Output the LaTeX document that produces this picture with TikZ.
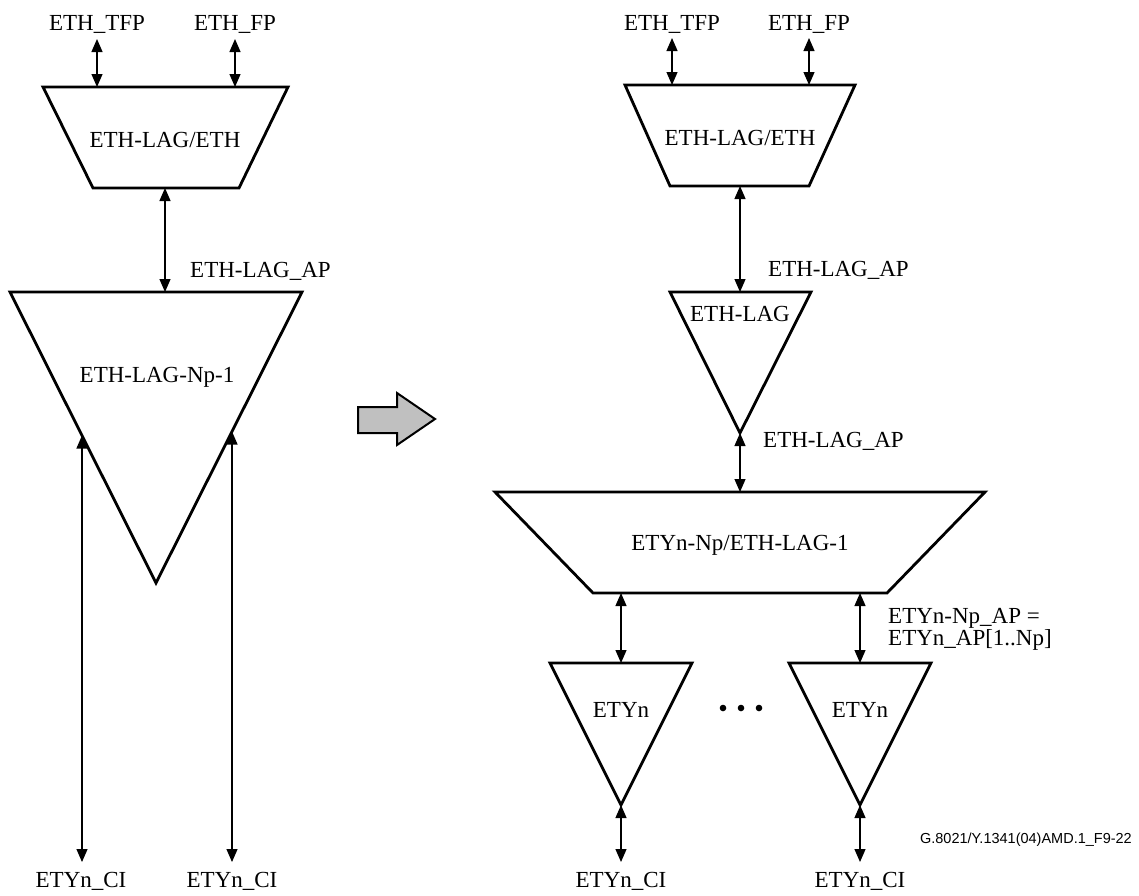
\documentclass[tikz,border=0pt]{standalone}
\usepackage{fontspec}
\setmainfont{Liberation Serif}
\newfontfamily\idfont{Liberation Sans}
\usetikzlibrary{arrows.meta}
\definecolor{arrowgray}{RGB}{192,192,192}
\tikzset{
  ptr/.tip={Triangle[length=13pt,width=11pt]},
  conn/.style={line width=1.2pt,ptr-ptr},
  block/.style={line width=2.8pt,line join=miter},
  lbl/.style={anchor=base,inner sep=0pt,font=\fontsize{23}{26}\selectfont},
  lbll/.style={lbl,anchor=base west},
}
\begin{document}
\begin{tikzpicture}[x=1pt,y=-1pt]
\useasboundingbox (0,0) rectangle (1139,895);

% ================= LEFT =================
\draw[block] (43,87) -- (288,87) -- (239,188) -- (93,188) -- cycle;
\node[lbl] (lTrapTxt) at (165,147) {ETH-LAG/ETH};
\node[lbl] (lTFP) at (97,30) {ETH\_TFP};
\node[lbl] (lFP) at (235,30) {ETH\_FP};
\coordinate (lTFPa) at (97,39);  \coordinate (lTFPb) at (97,87);
\coordinate (lFPa) at (235,39);  \coordinate (lFPb) at (235,87);
\draw[conn] (lTFPa) -- (lTFPb);
\draw[conn] (lFPa) -- (lFPb);

\draw[block] (10,292) -- (302,292) -- (156,583) -- cycle;
\node[lbl] (lTriTxt) at (157,382) {ETH-LAG-Np-1};
\coordinate (lAPa) at (165,188); \coordinate (lAPb) at (165,292);
\draw[conn] (lAPa) -- (lAPb);
\node[lbll] (lAP) at (190,277) {ETH-LAG\_AP};

\coordinate (lCI1a) at (82,435.5);  \coordinate (lCI1b) at (82,862);
\coordinate (lCI2a) at (232,431.5); \coordinate (lCI2b) at (232,862);
\draw[conn] (lCI1a) -- (lCI1b);
\draw[conn] (lCI2a) -- (lCI2b);
\node[lbl] (lCI1) at (81,887) {ETYn\_CI};
\node[lbl] (lCI2) at (232,887) {ETYn\_CI};

% ================= BIG ARROW =================
\draw[line width=2pt,fill=arrowgray,line join=miter]
  (358,407) -- (397,407) -- (397,393) -- (435,419) -- (397,445) -- (397,433) -- (358,433) -- cycle;

% ================= RIGHT =================
\draw[block] (625,85) -- (855,85) -- (809,186) -- (670,186) -- cycle;
\node[lbl] (rTrapTxt) at (740,145) {ETH-LAG/ETH};
\node[lbl] (rTFP) at (672,30) {ETH\_TFP};
\node[lbl] (rFP) at (809,30) {ETH\_FP};
\coordinate (rTFPa) at (672,38); \coordinate (rTFPb) at (672,85);
\coordinate (rFPa) at (809,38);  \coordinate (rFPb) at (809,85);
\draw[conn] (rTFPa) -- (rTFPb);
\draw[conn] (rFPa) -- (rFPb);

\draw[block] (670,292) -- (811,292) -- (740,433) -- cycle;
\node[lbl] (rLagTxt) at (740,321) {ETH-LAG};
\coordinate (rAP1a) at (740,186); \coordinate (rAP1b) at (740,292);
\draw[conn] (rAP1a) -- (rAP1b);
\node[lbll] (rAP1) at (768,276) {ETH-LAG\_AP};

\coordinate (rAP2a) at (740,433); \coordinate (rAP2b) at (740,492);
\draw[conn] (rAP2a) -- (rAP2b);
\node[lbll] (rAP2) at (763,447) {ETH-LAG\_AP};

\draw[block] (495,492) -- (985,492) -- (887,593) -- (593,593) -- cycle;
\node[lbl] (rBigTxt) at (740,550) {ETYn-Np/ETH-LAG-1};

\draw[block] (550,663) -- (692,663) -- (621,805) -- cycle;
\draw[block] (789,663) -- (931,663) -- (860,805) -- cycle;
\node[lbl] (rEty1) at (621,717) {ETYn};
\node[lbl] (rEty2) at (860,717) {ETYn};

\coordinate (rE1a) at (621,593); \coordinate (rE1b) at (621,663);
\coordinate (rE2a) at (860,593); \coordinate (rE2b) at (860,663);
\draw[conn] (rE1a) -- (rE1b);
\draw[conn] (rE2a) -- (rE2b);
\node[lbll] (rNpAP) at (888,623) {ETYn-Np\_AP =};
\node[lbll] (rNpAP2) at (888,645) {ETYn\_AP[1..Np]};

\fill (723,708) circle (3.3) (741,708) circle (3.3) (759,708) circle (3.3);

\coordinate (rC1a) at (621,805); \coordinate (rC1b) at (621,862);
\coordinate (rC2a) at (860,805); \coordinate (rC2b) at (860,862);
\draw[conn] (rC1a) -- (rC1b);
\draw[conn] (rC2a) -- (rC2b);
\node[lbl] (rCI1) at (621,887) {ETYn\_CI};
\node[lbl] (rCI2) at (860,887) {ETYn\_CI};

\node[anchor=base east,inner sep=0pt,font=\idfont\fontsize{14.5}{17}\selectfont] (figid) at (1132,843) {G.8021/Y.1341(04)AMD.1\_F9-22};
\end{tikzpicture}
\end{document}
